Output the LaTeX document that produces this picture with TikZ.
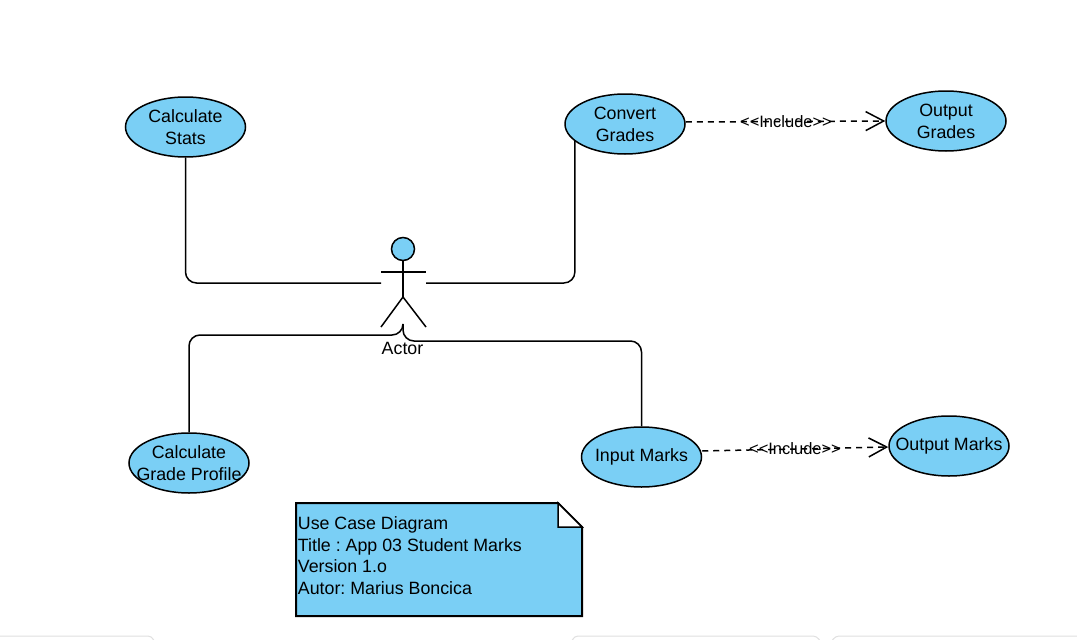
\documentclass[tikz,border=0pt]{standalone}
\usepackage{fontspec}
\setmainfont{Liberation Sans}
\frenchspacing
\usetikzlibrary{shapes.geometric,arrows.meta,calc}
\definecolor{uc}{HTML}{7ACFF5}
\tikzset{
  usecase/.style={ellipse,draw=black,fill=uc,line width=1.5pt,minimum width=120pt,minimum height=60pt,inner xsep=-30pt,inner ysep=-20pt,align=center,font=\fontsize{17.8}{22}\selectfont},
  assoc/.style={draw=black,line width=1.5pt,rounded corners=11pt},
  stick/.style={draw=black,line width=1.5pt},
  incl/.style={draw=black,line width=1.5pt,dash pattern=on 6pt off 5pt,-{Straight Barb[length=18pt,width=19pt,line width=1.5pt]}},
  lbl/.style={inner sep=0pt,font=\fontsize{16.5}{18}\selectfont,text=black},
  tab/.style={draw=black!12,line width=1pt,rounded corners=4pt}
}
\begin{document}
\begin{tikzpicture}[x=1pt,y=-1pt]
\useasboundingbox (0,0) rectangle (1077,640);
\fill[white] (0,0) rectangle (1077,640);
% footer tabs
\draw[tab] (0,636) -- (152,636) -- (154,641);
\draw[tab] (572,641) -- (574,636) -- (817,636) -- (820,641);
\draw[tab] (832,641) -- (835,636) -- (1077,636);
% use cases
\node[usecase] (stats) at (185.5,127) {Calculate\\Stats};
\node[usecase] (convert) at (625,124) {Convert\\Grades};
\node[usecase] (outgrades) at (946,121) {Output\\Grades};
\node[usecase] (profile) at (189,463) {Calculate\\Grade Profile};
\node[usecase] (input) at (641.5,457) {Input Marks};
\node[usecase] (outmarks) at (949,446) {Output Marks};
% actor
\node[circle,draw=black,fill=uc,line width=1.5pt,minimum size=23pt,inner sep=0pt] (head) at (403,249) {};
\coordinate (hip) at (403,297);
\coordinate (armL) at (381,272);
\coordinate (armR) at (426,272);
\coordinate (legL) at (381,327);
\coordinate (legR) at (426,327);
\coordinate (foot) at (403,327);
\coordinate (sideL) at (381,283);
\coordinate (sideR) at (426,283);
\draw[stick] (head.south) -- (hip);
\draw[stick] (armL) -- (armR);
\draw[stick] (legL) -- (hip) -- (legR);
\node[inner sep=0pt,font=\fontsize{17.8}{20}\selectfont] (actorlabel) at (402.5,348) {Actor};
% associations
\draw[assoc] (stats.south) |- (sideL);
\draw[assoc] (convert.198) ++(1,0) |- (sideR);
\draw[assoc] (profile.north) |- (403,335) -- (foot);
\draw[assoc] (input.north) |- (403,341) -- (foot);
% includes
\draw[incl] ($(convert.east)+(0,-2)$) -- ($(outgrades.west)+(0,0)$);
\draw[incl] ($(input.east)+(0,-6)$) -- ($(outmarks.west)+(0,1)$);
\node[lbl] (inc1) at (786,122) {<{}<Include>{}>};
\node[lbl] (inc2) at (795,449) {<{}<Include>{}>};
% note
\draw[draw=black,fill=uc,line width=2pt] (296,503) -- (558,503) -- (582,527) -- (582,616) -- (296,616) -- cycle;
\draw[draw=black,fill=white,line width=1.5pt] (558,503) -- (582,527) -- (558,527) -- cycle;
\node[anchor=north west,inner sep=0pt,align=left,font=\fontsize{17.8}{21.6}\selectfont] (notetext) at (297.7,516.3) {Use Case Diagram\\Title : App 03 Student Marks\\Version 1.o\\Autor: Marius Boncica};
\end{tikzpicture}
\end{document}
